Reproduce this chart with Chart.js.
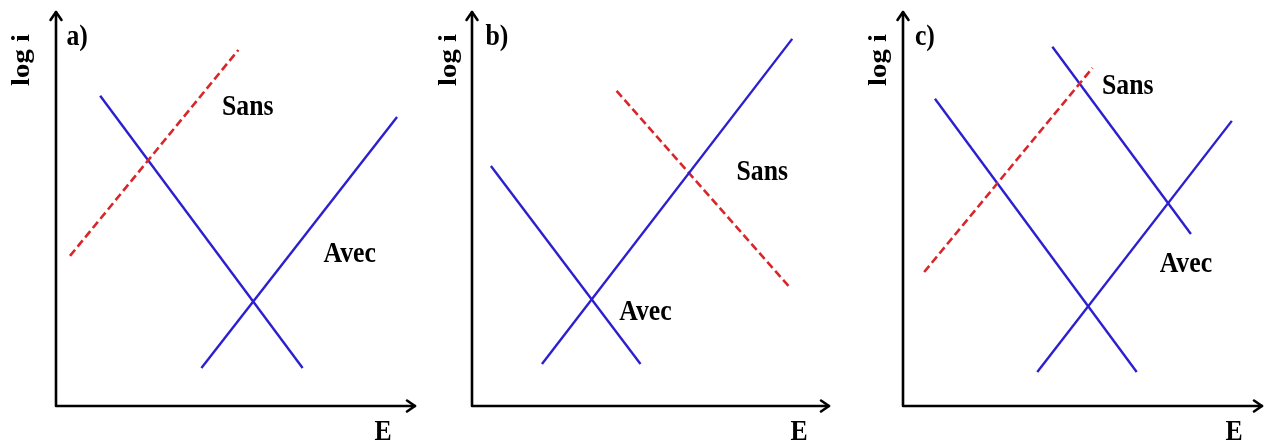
<!DOCTYPE html>
<html>
<head>
<meta charset="utf-8">
<script src="https://cdn.jsdelivr.net/npm/chart.js@4.4.1/dist/chart.umd.min.js"></script>
<style>
    html, body { margin: 0; padding: 0; background: #ffffff; }
    #wrap { position: relative; width: 1264px; height: 443px; overflow: hidden; }
    canvas { position: absolute; top: 0; }
</style>
</head>
<body>
<div id="wrap">
    <canvas id="panelA" width="421" height="443" style="left:0px"></canvas>
    <canvas id="panelB" width="421" height="443" style="left:421px"></canvas>
    <canvas id="panelC" width="422" height="443" style="left:843px"></canvas>
</div>
<script>

// ---------------- DATA (E on x, log i on y, arbitrary units) ----------------

const xLabel = "E";
const yLabel = "log i";
const panelTags = ["a)", "b)", "c)"];

// a) the inhibitor slows the anodic branch
const aSansAnodic = [{ x: 0.39, y: 4.19 }, { x: 5.08, y: 9.94 }];
const aCathodic = [{ x: 1.23, y: 8.66 }, { x: 6.87, y: 1.06 }];
const aAvecAnodic = [{ x: 4.05, y: 1.06 }, { x: 9.50, y: 8.07 }];

// b) the inhibitor slows the cathodic branch
const bAvecCathodic = [{ x: 0.53, y: 6.70 }, { x: 4.72, y: 1.17 }];
const bAnodic = [{ x: 1.96, y: 1.17 }, { x: 8.97, y: 10.25 }];
const bSansCathodic = [{ x: 4.05, y: 8.80 }, { x: 8.91, y: 3.30 }];

// c) mixed inhibitor
const cAvecCathodic = [{ x: 0.89, y: 8.58 }, { x: 6.51, y: 0.95 }];
const cSansCathodic = [{ x: 4.16, y: 10.03 }, { x: 8.02, y: 4.80 }];
const cAvecAnodic = [{ x: 3.74, y: 0.95 }, { x: 9.16, y: 7.96 }];
const cSansAnodic = [{ x: 0.59, y: 3.74 }, { x: 5.28, y: 9.44 }];

// text anchors in the same units
const aNotes = [["Sans", 5.34, 8.35], ["Avec", 8.18, 4.22]];
const bNotes = [["Sans", 8.13, 6.51], ["Avec", 4.86, 2.60]];
const cNotes = [["Sans", 6.26, 8.91], ["Avec", 7.88, 3.94]];

// ---------------- STYLES ----------------

const BLUE = "#2b1fcf";
const RED = "#d8262b";
const FONT = 'bold 25px "Liberation Serif", "DejaVu Serif", serif';

function solid(points) {
    return {
        data: points,
        showLine: true,
        borderColor: BLUE,
        borderWidth: 2.4,
        pointRadius: 0,
        fill: false
    };
}

function dashed(points) {
    return {
        data: points,
        showLine: true,
        borderColor: RED,
        borderWidth: 2.6,
        borderDash: [8, 4],
        pointRadius: 0,
        fill: false
    };
}

// axes with open arrow heads, plus all the labels
const sketchPlugin = {
    id: "sketch",
    afterDraw(chart, args, opts) {
        const ctx = chart.ctx;
        const area = chart.chartArea;
        const sx = chart.scales.x;
        const sy = chart.scales.y;

        ctx.save();
        ctx.strokeStyle = "#000000";
        ctx.lineWidth = 2.6;
        ctx.lineCap = "round";
        ctx.lineJoin = "round";

        ctx.beginPath();
        ctx.moveTo(area.left, area.top);
        ctx.lineTo(area.left, area.bottom);
        ctx.lineTo(area.right, area.bottom);
        ctx.stroke();

        ctx.beginPath();
        ctx.moveTo(area.left - 5.5, area.top + 8);
        ctx.lineTo(area.left, area.top);
        ctx.lineTo(area.left + 5.5, area.top + 8);
        ctx.moveTo(area.right - 8, area.bottom - 5.5);
        ctx.lineTo(area.right, area.bottom);
        ctx.lineTo(area.right - 8, area.bottom + 5.5);
        ctx.stroke();

        ctx.fillStyle = "#000000";
        ctx.font = FONT;
        ctx.textAlign = "center";
        ctx.textBaseline = "middle";

        const put = (text, x, y) => {
            ctx.save();
            ctx.translate(sx.getPixelForValue(x), sy.getPixelForValue(y));
            ctx.scale(1.03, 1.18);
            ctx.fillText(text, 0, 0);
            ctx.restore();
        };

        opts.notes.forEach(n => put(n[0], n[1], n[2]));
        put(opts.tag, opts.tagX, 10.28);
        put(xLabel, opts.eX, -0.75);

        ctx.save();
        ctx.translate(sx.getPixelForValue(opts.logX), sy.getPixelForValue(9.66));
        ctx.rotate(-Math.PI / 2);
        ctx.scale(1.15, 1.05);
        ctx.fillText(yLabel, 0, 0);
        ctx.restore();

        ctx.restore();
    }
};

function makePanel(id, datasets, padding, sketch) {
    new Chart(
        document.getElementById(id),
        {
            type: "scatter",
            data: { datasets: datasets },
            options: {
                responsive: false,
                animation: false,
                layout: { padding: padding },
                scales: {
                    x: { type: "linear", min: 0, max: 10, display: false },
                    y: { type: "linear", min: 0, max: 11, display: false }
                },
                plugins: {
                    legend: { display: false },
                    tooltip: { enabled: false },
                    sketch: sketch
                },
                elements: { line: { tension: 0 } }
            },
            plugins: [sketchPlugin]
        }
    );
}

// ---------------- PANELS ----------------

makePanel(
    "panelA",
    [dashed(aSansAnodic), solid(aCathodic), solid(aAvecAnodic)],
    { left: 56, right: 6, top: 12, bottom: 37 },
    { notes: aNotes, tag: panelTags[0], tagX: 0.59, eX: 9.11, logX: -0.95 }
);

makePanel(
    "panelB",
    [solid(bAvecCathodic), solid(bAnodic), dashed(bSansCathodic)],
    { left: 51, right: 13, top: 12, bottom: 37 },
    { notes: bNotes, tag: panelTags[1], tagX: 0.70, eX: 9.16, logX: -0.65 }
);

makePanel(
    "panelC",
    [dashed(cSansAnodic), solid(cAvecCathodic), solid(cSansCathodic), solid(cAvecAnodic)],
    { left: 60, right: 3, top: 12, bottom: 37 },
    { notes: cNotes, tag: panelTags[2], tagX: 0.61, eX: 9.22, logX: -0.65 }
);

</script>
</body>
</html>
